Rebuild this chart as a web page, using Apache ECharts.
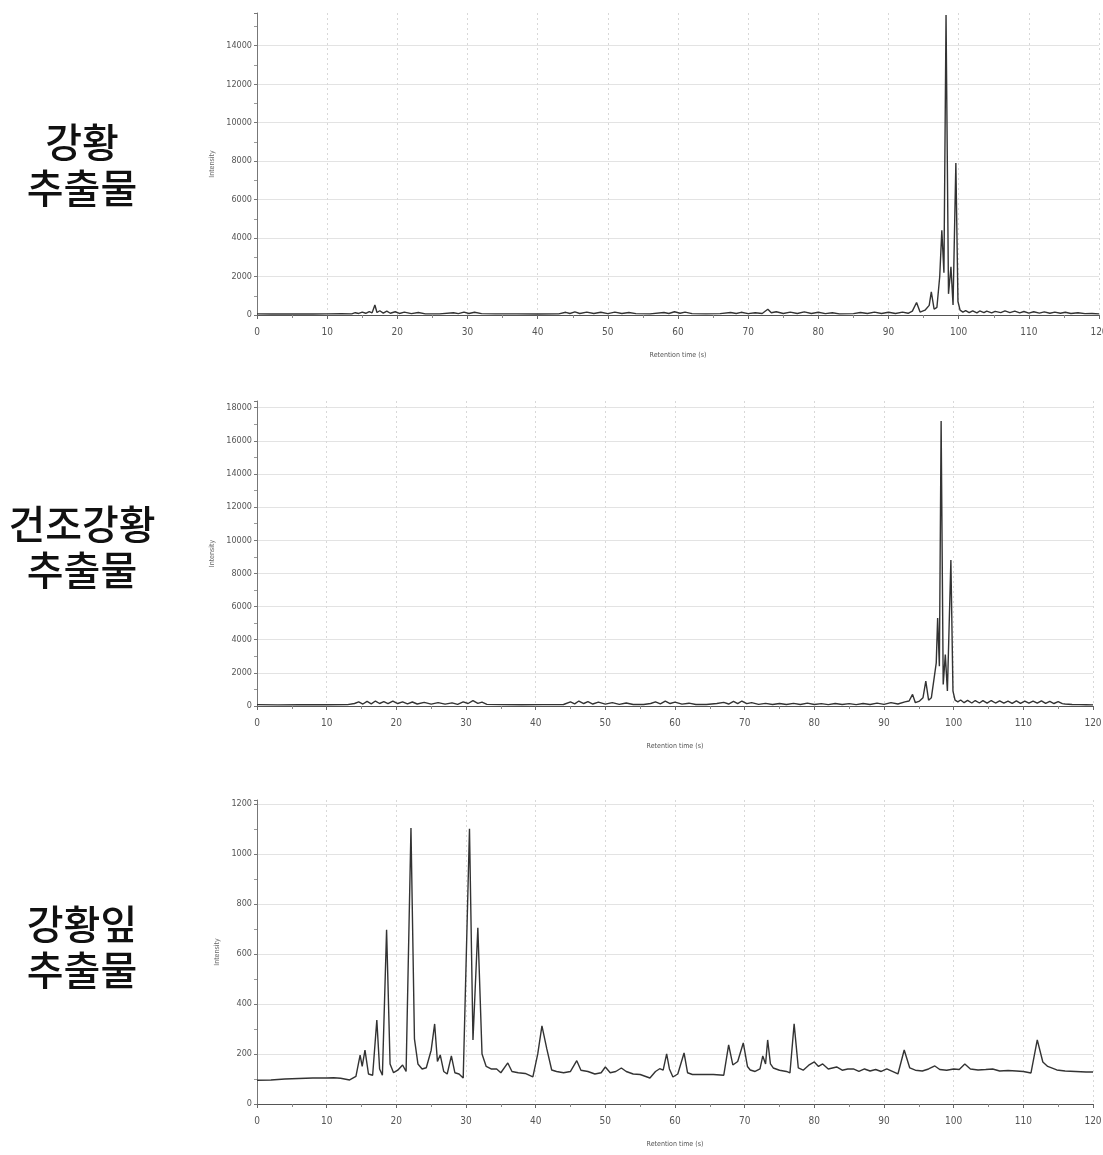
<!DOCTYPE html>
<html>
<head>
<meta charset="utf-8">
<script src="https://cdn.jsdelivr.net/npm/echarts@6/dist/echarts.min.js"></script>
<style>
  html, body { margin: 0; padding: 0; background: #fff; }
  #chart { width: 1103px; height: 1155px; }
</style>
</head>
<body>
<div id="chart"></div>
<script>
// Sample names shown on the left of each chromatogram
const sampleNames = [['강황', '추출물'], ['건조강황', '추출물'], ['강황잎', '추출물']];
const xAxisName = 'Retention time (s)';
const yAxisName = 'Intensity';
const yMaxes = [15700, 18400, 1215];
const yIntervals = [2000, 2000, 200];

// Chromatogram traces as [retention time, intensity]
const turmericTrace = [
  [0,60],[2,55],[5,60],[8,55],[10,60],[12,70],[13.5,60],[14,120],[14.5,80],[15,150],[15.5,90],[16,180],[16.4,110],[16.8,520],[17.1,130],[17.5,220],[18,100],[18.5,200],[19,90],[19.7,170],[20.3,80],[21,150],[22,70],[23,130],[24,60],[26,60],[28,120],[28.7,70],[29.5,150],[30.2,80],[31,140],[32,70],[34,60],[37,60],[40,55],[43,60],[44,140],[44.6,80],[45.3,160],[46,80],[47,150],[48,80],[49,140],[50,70],[51,150],[52,80],[53,130],[54,70],[56,60],[58,130],[58.7,80],[59.5,170],[60.3,90],[61,150],[62,70],[64,60],[66,70],[67.5,130],[68.3,80],[69,140],[70,70],[71,120],[72,80],[72.8,300],[73.3,120],[74,170],[75,80],[76,150],[77,80],[78,160],[79,80],[80,140],[81,70],[82,120],[83,60],[85,70],[86,130],[87,80],[88,150],[89,80],[90,140],[91,80],[92,150],[92.8,90],[93.4,200],[94.0,650],[94.5,150],[95.2,250],[95.8,500],[96.1,1200],[96.5,300],[96.9,400],[97.3,2000],[97.6,4400],[97.9,2200],[98.2,15600],[98.55,1100],[98.9,2500],[99.2,520],[99.6,7900],[99.9,700],[100.2,250],[100.6,150],[101,230],[101.5,120],[102,220],[102.6,110],[103,210],[103.6,120],[104,200],[104.7,110],[105.2,190],[106,120],[106.6,210],[107.3,120],[108,200],[108.7,110],[109.3,180],[110,100],[110.7,170],[111.5,100],[112.2,160],[113,90],[113.7,150],[114.5,90],[115.2,140],[116,80],[117,120],[118,70],[119,80],[120,60]
];
const driedTurmericTrace = [
  [0,80],[3,70],[6,80],[10,75],[13,80],[14,150],[14.6,250],[15.2,120],[15.8,280],[16.4,130],[17,300],[17.6,150],[18.2,260],[18.8,140],[19.5,300],[20.2,150],[20.9,250],[21.6,130],[22.3,240],[23,120],[24,220],[25,110],[26,200],[27,110],[28,190],[28.8,100],[29.6,250],[30.3,150],[31,320],[31.7,160],[32.3,230],[33,100],[35,80],[38,75],[41,80],[44,90],[45,250],[45.6,130],[46.2,300],[46.9,150],[47.5,260],[48.2,120],[49,230],[50,110],[51,200],[52,100],[53,180],[54,90],[55.5,90],[56.5,150],[57.2,250],[57.9,130],[58.6,300],[59.3,150],[60,230],[61,110],[62,170],[63,90],[64.5,90],[66,150],[67,220],[67.7,120],[68.4,280],[69,140],[69.6,300],[70.3,140],[71,200],[72,100],[73,160],[74,90],[75,150],[76,90],[77,160],[78,90],[79,170],[80,90],[81,140],[82,80],[83,150],[84,90],[85,140],[86,80],[87,150],[88,90],[89,170],[90,100],[91,200],[92,120],[93,250],[93.6,300],[94.1,700],[94.5,200],[95.1,300],[95.6,500],[96.0,1500],[96.4,350],[96.8,500],[97.2,1700],[97.5,2600],[97.7,5300],[97.95,2400],[98.2,17200],[98.5,1300],[98.8,3100],[99.1,900],[99.6,8800],[99.9,900],[100.2,350],[100.6,250],[101,360],[101.5,200],[102,340],[102.6,180],[103.1,330],[103.7,180],[104.2,320],[104.8,170],[105.4,330],[106,180],[106.6,310],[107.2,170],[107.8,300],[108.4,160],[109,310],[109.6,160],[110.2,290],[110.8,170],[111.4,300],[112,170],[112.6,310],[113.2,160],[113.8,280],[114.4,150],[115,260],[115.6,140],[116,120],[117,90],[118,80],[119,75],[120,70]
];
const turmericLeafTrace = [
  [0,95],[2,96],[4,100],[6,102],[8,104],[10,104],[11,105],[12,103],[13.3,96],[14.2,110],[14.8,195],[15.1,150],[15.5,215],[16,120],[16.6,115],[17.2,336],[17.6,140],[18.0,115],[18.6,696],[19.1,160],[19.6,125],[20.2,135],[20.9,156],[21.4,130],[22.1,1103],[22.6,260],[23.1,160],[23.7,140],[24.3,145],[25.0,215],[25.5,320],[25.9,170],[26.3,196],[26.8,130],[27.3,120],[27.9,192],[28.4,125],[29.0,120],[29.6,104],[30.5,1100],[31.0,256],[31.7,704],[32.3,200],[32.9,150],[33.6,140],[34.4,140],[35.0,125],[36.0,164],[36.6,130],[37.5,125],[38.5,122],[39.6,108],[40.3,200],[40.9,312],[41.6,220],[42.3,136],[43,130],[44,125],[45,130],[45.9,173],[46.5,135],[47.5,130],[48.5,120],[49.4,125],[50.0,148],[50.7,125],[51.5,130],[52.3,144],[53,130],[54,120],[55,118],[56.4,104],[57.2,130],[57.8,141],[58.3,135],[58.8,200],[59.2,140],[59.7,108],[60.4,120],[61.3,204],[61.8,125],[62.5,118],[64,118],[65.5,118],[67.0,115],[67.7,236],[68.3,156],[69.0,170],[69.8,244],[70.4,150],[70.8,136],[71.5,130],[72.2,140],[72.6,192],[73.0,160],[73.3,256],[73.7,160],[74.1,144],[75,135],[76,130],[76.5,124],[77.1,320],[77.7,144],[78.4,135],[79.2,155],[80,168],[80.6,150],[81.2,160],[82,140],[83.2,148],[84,135],[84.8,140],[85.6,140],[86.4,130],[87.2,140],[88,132],[88.8,138],[89.6,130],[90.4,140],[91.2,130],[92.0,120],[92.9,216],[93.7,144],[94.5,135],[95.5,132],[96.4,140],[97.3,152],[98.0,138],[99,135],[100,140],[100.8,138],[101.6,160],[102.4,140],[103.5,136],[104.6,138],[105.6,140],[106.6,132],[107.8,134],[109,132],[110,130],[111.1,124],[112.0,256],[112.8,168],[113.5,150],[114.8,136],[116,132],[117.5,130],[119,128],[120,128]
];
const traces = [turmericTrace, driedTurmericTrace, turmericLeafTrace];

// Layout of the three stacked panels (pixels)
const panels = [
  { top: 13,  height: 302, left: 257, width: 842, labelY: 142 },
  { top: 401, height: 305, left: 257, width: 836, labelY: 524 },
  { top: 800, height: 304, left: 257, width: 836, labelY: 924 }
];

const tickFont = '"Liberation Sans Narrow", "DejaVu Sans Condensed", "Liberation Sans", sans-serif';

const chart = echarts.init(document.getElementById('chart'), null, { renderer: 'canvas' });

const grids = [], xAxes = [], yAxes = [], series = [], graphics = [];
panels.forEach((p, i) => {
  grids.push({
    left: p.left, top: p.top, width: p.width, height: p.height,
    containLabel: false, outerBoundsMode: 'none'
  });
  xAxes.push({
    type: 'value', gridIndex: i, min: 0, max: 120, interval: 10,
    name: xAxisName, nameLocation: 'middle', nameGap: 37,
    nameTextStyle: { fontSize: 7, color: '#555', fontFamily: tickFont },
    axisLine: { lineStyle: { color: '#555', width: 1 } },
    axisTick: { length: 4, lineStyle: { color: '#666' } },
    minorTick: { show: true, splitNumber: 2, length: 3, lineStyle: { color: '#888' } },
    axisLabel: { fontSize: 10, color: '#555', margin: 12, fontFamily: tickFont,
                 formatter: v => String(v) },
    splitLine: { show: true, lineStyle: { color: '#d8d8d8', type: [2, 3], width: 1 } }
  });
  yAxes.push({
    type: 'value', gridIndex: i, min: 0, max: yMaxes[i], interval: yIntervals[i],
    name: yAxisName, nameLocation: 'middle', nameGap: 35, nameRotate: 90,
    nameTextStyle: { fontSize: 7, color: '#666', fontFamily: tickFont },
    axisLine: { show: true, lineStyle: { color: '#777', width: 1 } },
    axisTick: { show: true, length: 3, lineStyle: { color: '#777' } },
    minorTick: { show: true, splitNumber: 2, length: 3, lineStyle: { color: '#999' } },
    axisLabel: { fontSize: 9, color: '#555', margin: 5, fontFamily: tickFont,
                 showMaxLabel: false, formatter: v => String(v) },
    splitLine: { show: true, showMaxLine: false, lineStyle: { color: '#e3e3e3', width: 1 } }
  });
  series.push({
    type: 'line', xAxisIndex: i, yAxisIndex: i, data: traces[i],
    showSymbol: false, smooth: false,
    lineStyle: { color: '#333', width: 1.4 },
    z: 3
  });
  sampleNames[i].forEach((line, k) => {
    graphics.push({
      type: 'text', x: 82, y: p.labelY + k * 46,
      style: {
        text: line, fill: '#111',
        font: '500 40px "Noto Sans CJK KR", sans-serif',
        textAlign: 'center', textVerticalAlign: 'middle'
      }
    });
  });
});

chart.setOption({
  animation: false,
  backgroundColor: '#ffffff',
  grid: grids,
  xAxis: xAxes,
  yAxis: yAxes,
  series: series,
  graphic: graphics
});
</script>
</body>
</html>
